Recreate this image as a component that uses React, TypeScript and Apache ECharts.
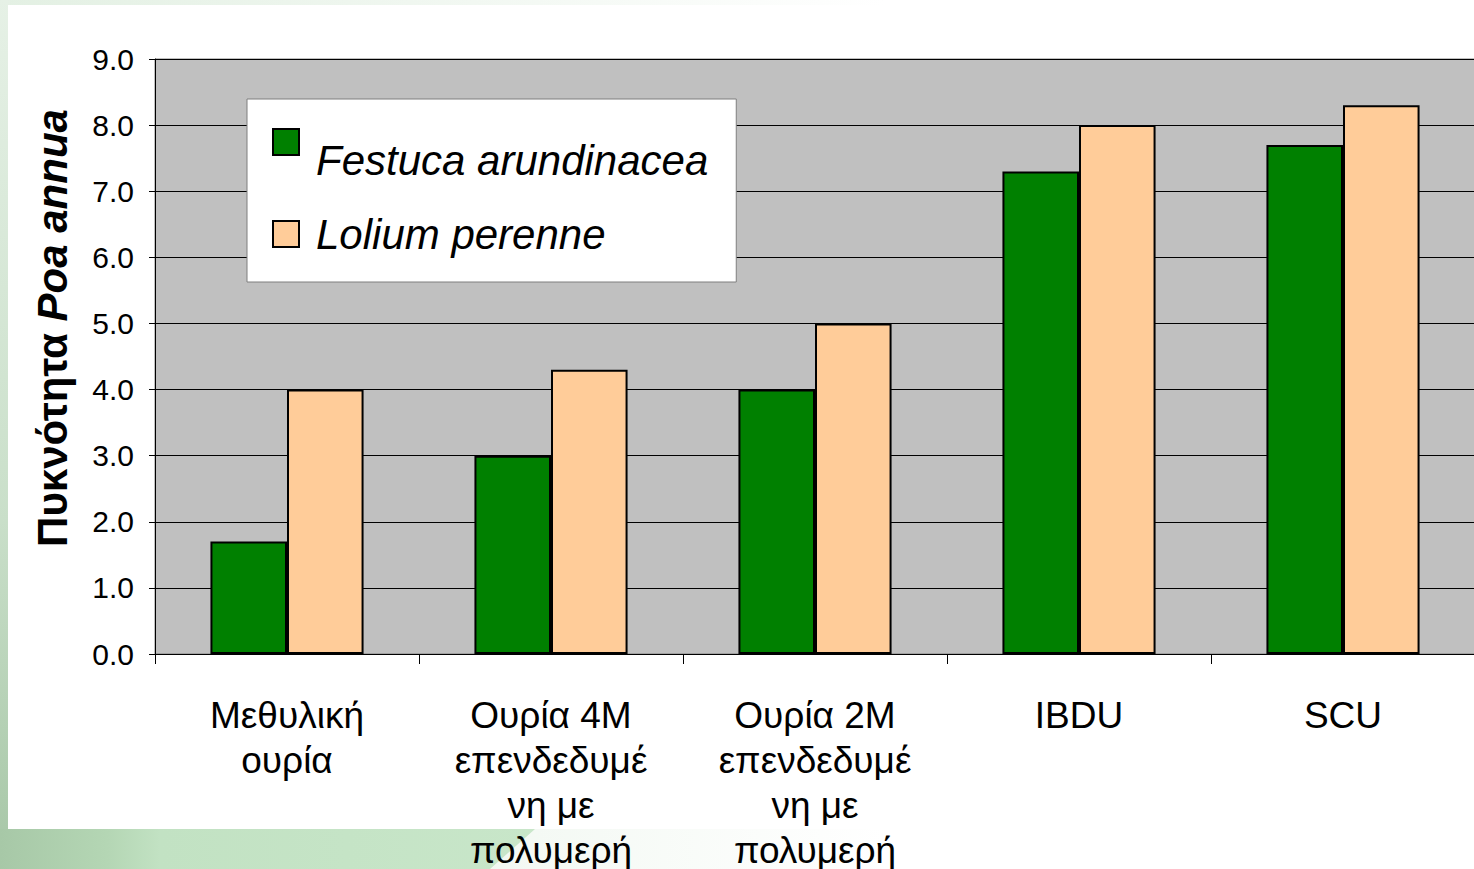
import React, { useEffect, useRef } from "react";
import * as echarts from "echarts";

const categories = [
  "Μεθυλική\nουρία",
  "Ουρία 4M\nεπενδεδυμέ\nνη με\nπολυμερή",
  "Ουρία 2M\nεπενδεδυμέ\nνη με\nπολυμερή",
  "IBDU",
  "SCU",
];
const festuca = [1.7, 3.0, 4.0, 7.3, 7.7];
const lolium = [4.0, 4.3, 5.0, 8.0, 8.3];
const seriesNames = ["Festuca arundinacea", "Lolium perenne"];
const yTicks = { min: 0, max: 9, interval: 1 };

const FONT = 'Arial, "Liberation Sans", sans-serif';

export default function App() {
  const ref = useRef<HTMLDivElement>(null);
  useEffect(() => {
    document.body.style.margin = "0";
    const chart = echarts.init(ref.current!, null, { renderer: "svg" });
    const W = 1474;
    const H = 869;
    chart.setOption({
      animation: false,
      textStyle: { fontFamily: FONT },
      graphic: [
        {
          type: "rect",
          z: -100,
          silent: true,
          shape: { x: 0, y: 0, width: W, height: H },
          style: {
            fill: new echarts.graphic.LinearGradient(0, 0, 1, 0, [
              { offset: 0, color: "#e3f0e3" },
              { offset: 0.6, color: "#ffffff" },
              { offset: 1, color: "#ffffff" },
            ]),
          },
        },
        {
          type: "rect",
          z: -99,
          silent: true,
          shape: { x: 0, y: 0, width: 10, height: H },
          style: {
            fill: new echarts.graphic.LinearGradient(0, 0, 0, 1, [
              { offset: 0, color: "#e6f1e6" },
              { offset: 0.6, color: "#c9dfc9" },
              { offset: 1, color: "#a6c6a6" },
            ]),
          },
        },
        {
          type: "polygon",
          z: -99,
          silent: true,
          shape: {
            points: [
              [0, 829],
              [535, 829],
              [490, 869],
              [0, 869],
            ],
          },
          style: {
            fill: new echarts.graphic.LinearGradient(0, 0, 1, 0, [
              { offset: 0, color: "#a7c8a7" },
              { offset: 0.2, color: "#b4d6b4" },
              { offset: 0.3, color: "#c2e2c3" },
              { offset: 1, color: "#c8e6c9" },
            ]),
          },
        },
        {
          type: "rect",
          z: -98,
          silent: true,
          shape: { x: 8, y: 5, width: W - 8, height: 824 },
          style: { fill: "#ffffff" },
        },
        {
          type: "text",
          z: 10,
          x: 52,
          y: 328,
          rotation: Math.PI / 2,
          style: {
            text: "{a|Πυκνότητα }{b|Poa annua}",
            align: "center",
            verticalAlign: "middle",
            rich: {
              a: { fontSize: 42, fontWeight: "bold", fontFamily: FONT, fill: "#000" },
              b: { fontSize: 42, fontWeight: "bold", fontStyle: "italic", fontFamily: FONT, fill: "#000" },
            },
          },
        },
      ],
      legend: {
        orient: "vertical",
        left: 247,
        top: 99,
        backgroundColor: "#ffffff",
        borderColor: "#7f7f7f",
        borderWidth: 1,
        borderRadius: 0,
        padding: [4, 28, 27, 25],
        itemGap: 32,
        itemWidth: 26,
        itemHeight: 26,
        icon: "rect",
        data: seriesNames,
        itemStyle: { borderColor: "#000", borderWidth: 2 },
        formatter: (name: string) =>
          name === seriesNames[0] ? `{f|${name}}` : `{l|${name}}`,
        textStyle: {
          fontSize: 42,
          fontStyle: "italic",
          fontFamily: FONT,
          color: "#000",
          rich: {
            f: {
              fontSize: 42,
              fontStyle: "italic",
              fontFamily: FONT,
              color: "#000",
              lineHeight: 48,
              padding: [36, 0, 0, 12],
            },
            l: {
              fontSize: 42,
              fontStyle: "italic",
              fontFamily: FONT,
              color: "#000",
              lineHeight: 48,
              padding: [0, 0, 0, 12],
            },
          },
        },
      },
      grid: {
        left: 155,
        right: -1,
        top: 59,
        bottom: H - 654,
        outerBoundsMode: "none",
        show: true,
        backgroundColor: "#c0c0c0",
        borderColor: "#808080",
        borderWidth: 1,
      },
      xAxis: {
        type: "category",
        data: categories,
        axisLine: { lineStyle: { color: "#000", width: 1 } },
        axisTick: { show: true, length: 10, lineStyle: { color: "#000" } },
        axisLabel: {
          color: "#000",
          fontSize: 37,
          lineHeight: 45,
          fontFamily: FONT,
          margin: 39,
          interval: 0,
        },
      },
      yAxis: {
        type: "value",
        min: yTicks.min,
        max: yTicks.max,
        interval: yTicks.interval,
        axisLine: { show: true, lineStyle: { color: "#000", width: 1 } },
        axisTick: { show: true, length: 6, lineStyle: { color: "#000" } },
        axisLabel: {
          color: "#000",
          fontSize: 30,
          fontFamily: FONT,
          margin: 21,
          formatter: (v: number) => v.toFixed(1),
        },
        splitLine: { show: true, lineStyle: { color: "#000", width: 1 } },
      },
      series: [
        {
          name: seriesNames[0],
          type: "bar",
          data: festuca,
          barGap: "0%",
          barCategoryGap: "42%",
          itemStyle: { color: "#008000", borderColor: "#000", borderWidth: 2 },
        },
        {
          name: seriesNames[1],
          type: "bar",
          data: lolium,
          barGap: "0%",
          barCategoryGap: "42%",
          itemStyle: { color: "#ffcc99", borderColor: "#000", borderWidth: 2 },
        },
      ],
    });
    return () => chart.dispose();
  }, []);
  return <div ref={ref} style={{ width: 1474, height: 869 }} />;
}
